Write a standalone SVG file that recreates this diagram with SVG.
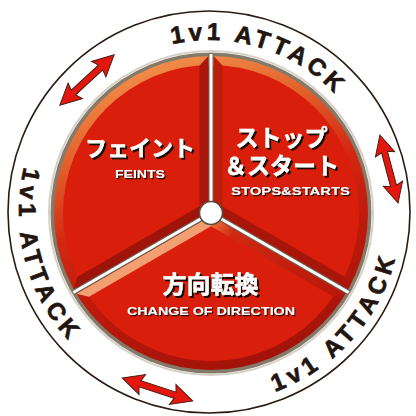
<svg xmlns="http://www.w3.org/2000/svg" width="416" height="416" viewBox="0 0 416 416">
<style>
.jp{font-family:"Noto Sans CJK JP","Noto Sans CJK SC",sans-serif;font-weight:bold;text-anchor:middle;fill:#fff;stroke:#fff;stroke-width:0.4}
.en{font-family:"Liberation Sans",Arial,sans-serif;font-weight:bold;text-anchor:middle;fill:#fff}
.ring{font-family:"Liberation Sans",Arial,sans-serif;font-weight:bold;font-size:24px;fill:#22140e;stroke:#22140e;stroke-width:0.7}
.arrow{fill:#e3170d;stroke:#4a1a10;stroke-width:1;stroke-linejoin:miter}
.div-edge{stroke:#6b6155;stroke-width:5;stroke-linecap:butt}
.div-line{stroke:#fff;stroke-width:3;stroke-linecap:butt}
</style>
<defs>
<filter id="sh" x="-10%" y="-20%" width="130%" height="160%">
<feDropShadow dx="2" dy="2" stdDeviation="0.3" flood-color="#140805" flood-opacity="1"/>
</filter>
<filter id="shs" x="-10%" y="-30%" width="130%" height="180%">
<feDropShadow dx="1.2" dy="1.2" stdDeviation="0.2" flood-color="#140805" flood-opacity="1"/>
</filter>
<linearGradient id="rim" gradientUnits="userSpaceOnUse" x1="160" y1="56" x2="260" y2="370">
<stop offset="0" stop-color="#f2904c"/>
<stop offset="0.22" stop-color="#e4622c"/>
<stop offset="0.45" stop-color="#d22812"/>
<stop offset="0.65" stop-color="#bf1a0b"/>
<stop offset="1" stop-color="#a01209"/>
</linearGradient>
<linearGradient id="brface" gradientUnits="userSpaceOnUse" x1="211" y1="218" x2="340" y2="294">
<stop offset="0" stop-color="#f07a40"/>
<stop offset="0.18" stop-color="#d02812"/>
<stop offset="1" stop-color="#b8170a"/>
</linearGradient>
<path id="arrowShape" d="M-37 0 L-16 -10.5 L-18.5 -3.2 L18.5 -3.2 L16 -10.5 L37 0 L16 10.5 L18.5 3.2 L-18.5 3.2 L-16 10.5 Z"/>
<path id="pTop" d="M 93.8 85.2 A 172 172 0 0 1 377.9 174.8"/>
<path id="pRight" d="M 171.9 399.2 A 191 191 0 0 0 391.1 151.4"/>
<path id="pLeft" d="M 74.9 76.9 A 191 191 0 0 0 160.6 396.5"/>
</defs>
<rect width="416" height="416" fill="#fff"/>
<g id="outer-ring">
<circle cx="209" cy="212" r="201" fill="#fff" stroke="#2a1a12" stroke-width="1.6"/>
</g>
<g id="ring-labels">
<text class="ring" letter-spacing="4"><textPath href="#pTop" startOffset="50%" text-anchor="middle">1v1 ATTACK</textPath></text>
<text class="ring" letter-spacing="5"><textPath href="#pRight" startOffset="50%" text-anchor="middle">1v1 ATTACK</textPath></text>
<text class="ring" letter-spacing="5"><textPath href="#pLeft" startOffset="50%" text-anchor="middle">1v1 ATTACK</textPath></text>
</g>
<g id="arrows">
<use href="#arrowShape" class="arrow" transform="translate(87 80) rotate(-42.8)"/>
<use href="#arrowShape" class="arrow" transform="translate(389 169) rotate(75) scale(0.95)"/>
<use href="#arrowShape" class="arrow" transform="translate(157.5 389.5) rotate(18)"/>
</g>
<g id="disk">
<circle cx="211" cy="213" r="162" fill="none" stroke="#d6d0c6" stroke-width="2"/>
<circle cx="211" cy="213" r="160.5" fill="#847a6a"/>
<circle cx="211" cy="213" r="157" fill="url(#rim)"/>
<circle cx="211" cy="213" r="148" fill="#d91f0c"/>
</g>
<g id="sector-feints">
<polygon points="208.5,211.56 208.5,56.02 199.5,65.45 199.5,206.36" fill="#a8170b"/>
<polygon points="208.5,211.56 73.81,289.33 77.47,276.82 199.5,206.36" fill="#9e1409"/>
<text class="jp" x="140" y="155.5" font-size="22" filter="url(#sh)">フェイント</text>
<text class="en" x="140" y="178" font-size="11" textLength="50" lengthAdjust="spacingAndGlyphs" filter="url(#shs)">FEINTS</text>
</g>
<g id="sector-stops">
<polygon points="213.5,211.56 213.5,56.02 222.5,65.45 222.5,206.36" fill="#bb1c0c"/>
<polygon points="213.5,211.56 348.19,289.33 344.53,276.82 222.5,206.36" fill="#a8160a"/>
<text class="jp" font-size="23" filter="url(#sh)"><tspan x="281.5" y="145.5">ストップ</tspan><tspan x="281.5" y="173.5">＆スタート</tspan></text>
<text class="en" x="290.5" y="194.5" font-size="11" textLength="119" lengthAdjust="spacingAndGlyphs" filter="url(#shs)">STOPS&amp;STARTS</text>
</g>
<g id="sector-direction">
<polygon points="211,215.89 345.69,293.66 333.03,296.73 211,226.28" fill="url(#brface)"/>
<polygon points="211,215.89 76.31,293.66 88.97,296.73 211,226.28" fill="#f2a072"/>
<text class="jp" x="210.5" y="293" font-size="24" filter="url(#sh)">方向転換</text>
<text class="en" x="211" y="315" font-size="11.5" textLength="168" lengthAdjust="spacingAndGlyphs" filter="url(#shs)">CHANGE OF DIRECTION</text>
</g>
<g id="connectors">
<line class="div-edge" x1="211" y1="213" x2="211" y2="54"/>
<line class="div-edge" x1="211" y1="213" x2="73.3" y2="292.5"/>
<line class="div-edge" x1="211" y1="213" x2="348.7" y2="292.5"/>
<line class="div-line" x1="211" y1="213" x2="211" y2="54"/>
<line class="div-line" x1="211" y1="213" x2="73.3" y2="292.5"/>
<line class="div-line" x1="211" y1="213" x2="348.7" y2="292.5"/>
</g>
<g id="hub">
<circle cx="211" cy="213" r="11.5" fill="#fff" stroke="#5a4a40" stroke-width="1.5"/>
</g>
</svg>
